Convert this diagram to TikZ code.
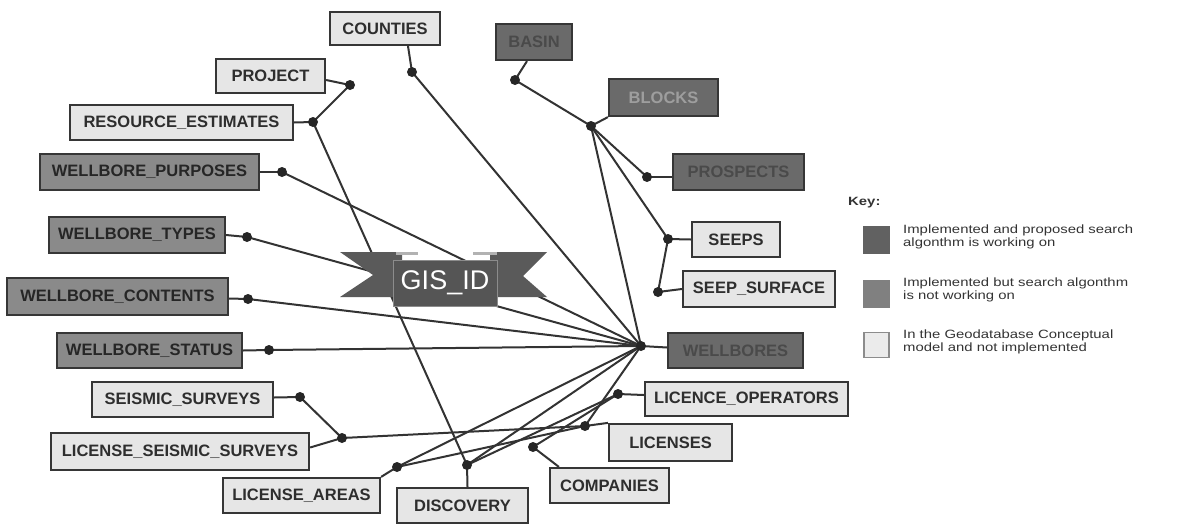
\documentclass[tikz,border=0pt]{standalone}
\usepackage{fontspec}
\usepackage{graphicx}
\setmainfont{Liberation Sans}
\usetikzlibrary{calc}
\pgfdeclarelayer{bg}
\pgfsetlayers{bg,main}
\definecolor{linec}{HTML}{333333}
\definecolor{dotc}{HTML}{262626}
\definecolor{edgec}{HTML}{363636}
\definecolor{litefill}{HTML}{E6E6E6}
\definecolor{litetext}{HTML}{2E2E2E}
\definecolor{midfill}{HTML}{8A8A8A}
\definecolor{midtext}{HTML}{262626}
\definecolor{darkfill}{HTML}{6A6A6A}
\definecolor{darktext}{HTML}{4A4A4A}
\definecolor{bannerc}{HTML}{5A5A5A}
\definecolor{keytext}{HTML}{333333}
\newcommand{\keyline}[1]{\scalebox{1.24}[1]{#1}}
\begin{document}
\begin{tikzpicture}[x=1pt,y=-1pt,
  link/.style={draw=linec, line width=2pt},
  ent/.style={draw=edgec, line width=2.2pt, minimum height=35pt, inner sep=0pt,
    font=\fontsize{16.5}{18}\selectfont\bfseries},
  lite/.style={ent, fill=litefill, text=litetext},
  mid/.style={ent, fill=midfill, text=midtext},
  dark/.style={ent, fill=darkfill, text=darktext},
  jn/.style={circle, fill=dotc, inner sep=0pt, minimum size=10pt},
  keysq/.style={minimum width=27pt, minimum height=28pt, inner sep=0pt},
  keylbl/.style={anchor=west, align=left, text=keytext, inner sep=0pt,
    font=\fontsize{12}{13}\selectfont}
]
\useasboundingbox (0,0) rectangle (1177,525);

% junction dots
\node[jn] (hub)  at (641,346) {};
\node[jn] (cd)   at (412,72)  {};
\node[jn] (pd)   at (350,85)  {};
\node[jn] (rd)   at (313,122) {};
\node[jn] (wpd)  at (282,172) {};
\node[jn] (wtd)  at (247,237) {};
\node[jn] (wcd)  at (248,299) {};
\node[jn] (wsd)  at (269,350) {};
\node[jn] (ssd)  at (300,397) {};
\node[jn] (lssd) at (342,438) {};
\node[jn] (lad)  at (397,467) {};
\node[jn] (dd)   at (467,465) {};
\node[jn] (cod)  at (533,447) {};
\node[jn] (lid)  at (585,426) {};
\node[jn] (lod)  at (618,394) {};
\node[jn] (bad)  at (515,80)  {};
\node[jn] (bld)  at (591,126) {};
\node[jn] (prd)  at (647,177) {};
\node[jn] (sed)  at (668,239) {};
\node[jn] (sfd)  at (658,292) {};

% banner behind the central key field
\fill[bannerc] (340,252) -- (402,252) -- (402,297) -- (340,297) -- (373,275) -- cycle;
\fill[bannerc] (490,252) -- (547,252) -- (523,276) -- (547,297) -- (490,297) -- cycle;
\fill[black!30] (396,252) rectangle (418,255);
\fill[black!30] (473,252) rectangle (497,255);
\node[draw=black!45, line width=1pt, fill=bannerc!95!black, text=white,
  minimum width=104pt, minimum height=46pt, inner sep=0pt,
  font=\fontsize{27}{30}\selectfont] (gis) at (445,283) {GIS\_ID};

% entity tables
\node[lite, minimum width=110pt, minimum height=33pt] (counties) at (385,28.5) {COUNTIES};
\node[lite, minimum width=109pt, minimum height=34pt] (project) at (270.5,76) {PROJECT};
\node[lite, minimum width=223pt] (resest) at (181.5,122.5) {RESOURCE\_ESTIMATES};
\node[mid, minimum width=219pt, minimum height=36pt] (wbpur) at (149.5,172) {WELLBORE\_PURPOSES};
\node[mid, minimum width=176pt, minimum height=36pt] (wbtyp) at (137,235) {WELLBORE\_TYPES};
\node[mid, minimum width=221pt, minimum height=37pt] (wbcon) at (117.5,296.5) {WELLBORE\_CONTENTS};
\node[mid, minimum width=185pt] (wbsta) at (149.5,350.5) {WELLBORE\_STATUS};
\node[lite, minimum width=181pt] (seis) at (182.5,399.5) {SEISMIC\_SURVEYS};
\node[lite, minimum width=258pt, minimum height=37pt] (licseis) at (180,451.5) {LICENSE\_SEISMIC\_SURVEYS};
\node[lite, minimum width=157pt] (licar) at (301.5,495.5) {LICENSE\_AREAS};
\node[lite, minimum width=131pt] (disc) at (462.5,505.5) {DISCOVERY};
\node[lite, minimum width=119pt] (comp) at (609.5,485.5) {COMPANIES};
\node[lite, minimum width=123pt, minimum height=37pt] (lic) at (670.5,442.5) {LICENSES};
\node[lite, minimum width=203pt, minimum height=34pt] (licop) at (746.5,399) {LICENCE\_OPERATORS};
\node[dark, minimum width=135pt] (wells) at (735.5,350.5) {WELLBORES};
\node[lite, minimum width=152pt, minimum height=36pt] (seepsurf) at (759,289) {SEEP\_SURFACE};
\node[lite, minimum width=88pt] (seeps) at (736,239.5) {SEEPS};
\node[dark, minimum width=131pt, minimum height=36pt] (prosp) at (738.5,172) {PROSPECTS};
\node[dark, minimum width=109pt, minimum height=37pt, text=black!38] (blocks) at (663.5,97.5) {BLOCKS};
\node[dark, minimum width=76pt, minimum height=36pt] (basin) at (534,42) {BASIN};

% connectors
\begin{pgfonlayer}{bg}
  % stubs from tables to their junctions
  \draw[link] ($(counties.south)+(23,0)$) -- (cd.center);
  \draw[link] ($(project.east)+(0,4)$) -- (pd.center);
  \draw[link] (resest.east) -- (rd.center);
  \draw[link] (wbpur.east) -- (wpd.center);
  \draw[link] (wbtyp.east) -- (wtd.center);
  \draw[link] ($(wbcon.east)+(0,2)$) -- (wcd.center);
  \draw[link] (wbsta.east) -- (wsd.center);
  \draw[link] ($(seis.east)+(0,-2)$) -- (ssd.center);
  \draw[link] ($(licseis.east)+(0,-4)$) -- (lssd.center);
  \draw[link] (licar.north east) -- (lad.center);
  \draw[link] ($(disc.north)+(5,0)$) -- (dd.center);
  \draw[link] ($(comp.north west)+(10,0)$) -- (cod.center);
  \draw[link] (lic.north west) -- (lid.center);
  \draw[link] ($(licop.west)+(0,-4)$) -- (lod.center);
  \draw[link] ($(wells.west)+(0,-3)$) -- (hub.center);
  \draw[link] (seepsurf.west) -- (sfd.center);
  \draw[link] (seeps.west) -- (sed.center);
  \draw[link] ($(prosp.west)+(0,5)$) -- (prd.center);
  \draw[link] (blocks.south west) -- (bld.center);
  \draw[link] ($(basin.south)+(-7,0)$) -- (bad.center);
  % relationships between junctions
  \draw[link] (cd.center) -- (hub.center);
  \draw[link] (pd.center) -- (rd.center);
  \draw[link] (rd.center) -- (dd.center);
  \draw[link] (wpd.center) -- (hub.center);
  \draw[link] (wtd.center) -- (hub.center);
  \draw[link] (wcd.center) -- (hub.center);
  \draw[link] (wsd.center) -- (hub.center);
  \draw[link] (ssd.center) -- (lssd.center);
  \draw[link] (lssd.center) -- (lid.center);
  \draw[link] (lad.center) -- (lid.center);
  \draw[link] (dd.center) -- (hub.center);
  \draw[link] (dd.center) -- (lod.center);
  \draw[link] (cod.center) -- (lod.center);
  \draw[link] (lid.center) -- (hub.center);
  \draw[link] (lad.center) -- (hub.center);
  \draw[link] (bad.center) -- (bld.center);
  \draw[link] (bld.center) -- (prd.center);
  \draw[link] (bld.center) -- (sed.center);
  \draw[link] (bld.center) -- (hub.center);
  \draw[link] (sed.center) -- (sfd.center);
\end{pgfonlayer}

% key
\node[anchor=west, inner sep=0pt, text=keytext, font=\fontsize{12}{13}\selectfont\bfseries] (keyhead) at (848,203) {\keyline{Key:}};
\node[keysq, fill=black!62] (k1) at (876.5,240) {};
\node[keysq, fill=black!50] (k2) at (876.5,293.5) {};
\node[keysq, fill=black!8, draw=black!45, line width=1.2pt, minimum width=25pt, minimum height=25pt] (k3) at (876.5,345) {};
\node[keylbl] (kt1) at (903,236.5) {\keyline{Implemented and proposed search}\\\keyline{algonthm is working on}};
\node[keylbl] (kt2) at (903,289.5) {\keyline{Implemented but search algonthm}\\\keyline{is not working on}};
\node[keylbl] (kt3) at (903,342) {\keyline{In the Geodatabase Conceptual}\\\keyline{model and not implemented}};
\end{tikzpicture}
\end{document}
